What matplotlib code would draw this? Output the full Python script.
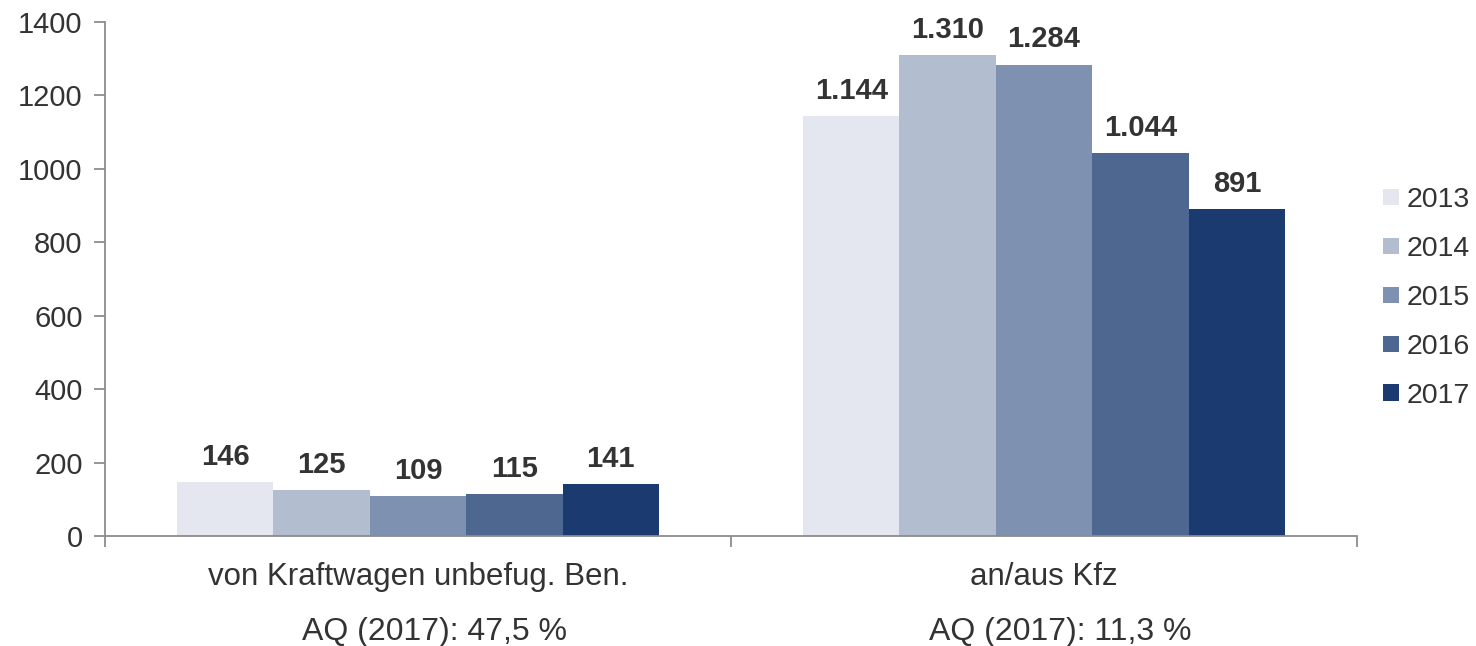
import matplotlib.pyplot as plt
import matplotlib.transforms as mtransforms
import numpy as np

plt.rcParams['font.family'] = ['Liberation Sans', 'DejaVu Sans']

# data
categories = ['von Kraftwagen unbefug. Ben.', 'an/aus Kfz']
aq_labels = ['AQ (2017): 47,5 %', 'AQ (2017): 11,3 %']
years = ['2013', '2014', '2015', '2016', '2017']
values = {
    '2013': [146, 1144],
    '2014': [125, 1310],
    '2015': [109, 1284],
    '2016': [115, 1044],
    '2017': [141, 891],
}
value_labels = {
    '2013': ['146', '1.144'],
    '2014': ['125', '1.310'],
    '2015': ['109', '1.284'],
    '2016': ['115', '1.044'],
    '2017': ['141', '891'],
}
colors = ['#E4E7EF', '#B2BDD0', '#7F91B0', '#4D6790', '#1B3A70']

text_col = '#333333'
axis_col = '#8C8C8C'

fig = plt.figure(figsize=(14.76, 6.46), dpi=100)
ax = fig.add_axes([0.0711, 0.1703, 0.8483, 0.7957])

x = np.arange(len(categories)) + 0.5
group_w = 0.77
bw = group_w / len(years)

for i, yr in enumerate(years):
    pos = x - group_w / 2 + bw * (i + 0.5)
    ax.bar(pos, values[yr], width=bw, color=colors[i], label=yr, zorder=2)
    for p, v, lab in zip(pos, values[yr], value_labels[yr]):
        ax.annotate(lab, (p, v), xytext=(0, 8), textcoords='offset points',
                    ha='center', va='bottom', fontsize=21, fontweight='bold',
                    color=text_col)

ax.set_xlim(0, len(categories))
ax.set_ylim(0, 1400)
ax.set_yticks(range(0, 1401, 200))
ax.set_xticks(range(0, len(categories) + 1))
ax.set_xticklabels([])

for s in ['top', 'right']:
    ax.spines[s].set_visible(False)
for s in ['left', 'bottom']:
    ax.spines[s].set_color(axis_col)
    ax.spines[s].set_linewidth(1.3)
ax.tick_params(axis='both', colors=axis_col, length=8, width=1.3)
ax.tick_params(axis='y', labelsize=21, labelcolor=text_col, pad=8)

# category names + AQ line below (AQ line sits slightly right of centre)
trans = mtransforms.blended_transform_factory(ax.transData, ax.transAxes)
for xi, cat, aq in zip(x, categories, aq_labels):
    ax.text(xi, -0.08, cat, transform=trans, ha='center', va='center',
            fontsize=22.5, color=text_col)
    ax.text(xi + 0.026, -0.187, aq, transform=trans, ha='center', va='center',
            fontsize=23, color=text_col)

leg = ax.legend(loc='center left', bbox_to_anchor=(1.0006, 0.463), frameon=False,
                fontsize=20.5, handlelength=0.55, handleheight=0.5,
                handletextpad=0.28, labelspacing=0.8, labelcolor=text_col)

fig.savefig('out.png', dpi=100)
